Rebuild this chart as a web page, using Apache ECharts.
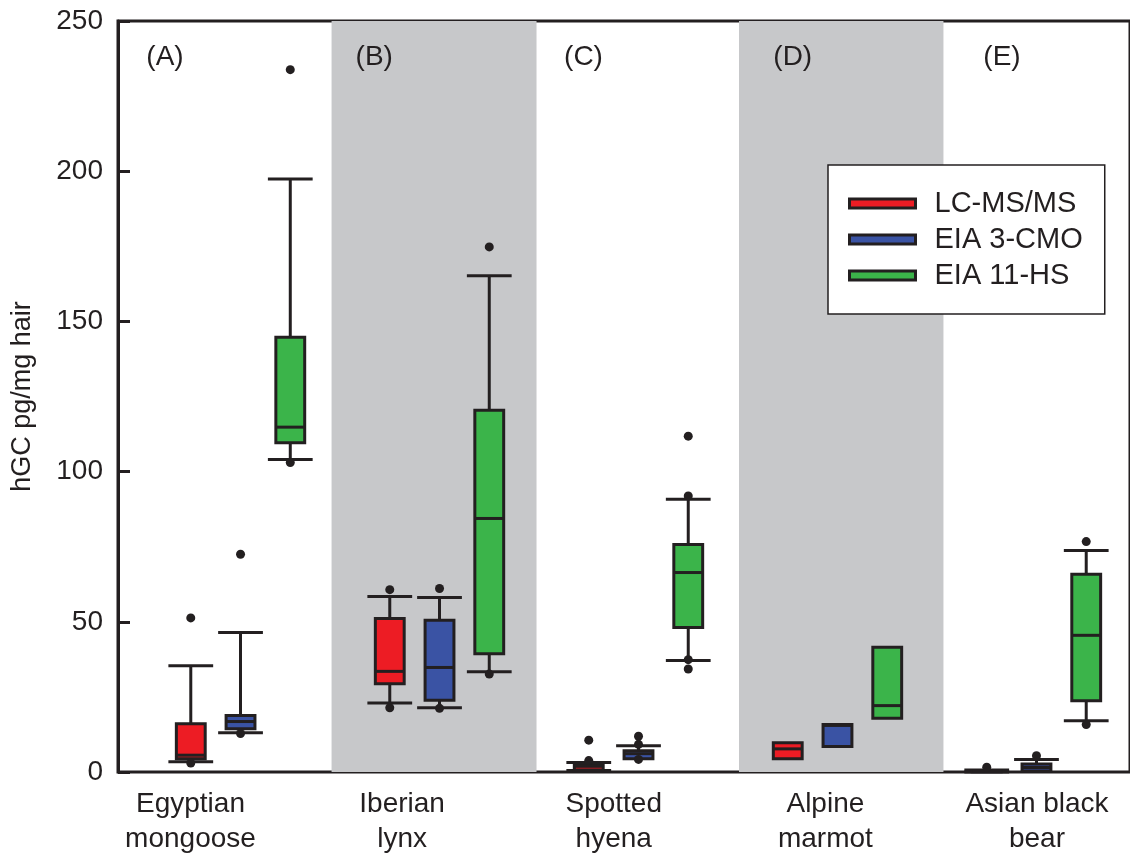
<!DOCTYPE html>
<html><head><meta charset="utf-8">
<script src="https://cdn.jsdelivr.net/npm/echarts@6/dist/echarts.min.js"></script>
<style>html,body{margin:0;padding:0;background:#fff}#c{width:1130px;height:857px}</style>
</head><body><div id="c"></div>
<script>
// ---------- data ----------
const species = ['Egyptian\nmongoose', 'Iberian\nlynx', 'Spotted\nhyena', 'Alpine\nmarmot', 'Asian black\nbear'];
const panelTags = ['(A)', '(B)', '(C)', '(D)', '(E)'];
const methods = ['LC-MS/MS', 'EIA 3-CMO', 'EIA 11-HS'];
const yTicks = [0, 50, 100, 150, 200, 250];
// shaded panels (B) and (D), as x extents in box-slot units
const shadedBands = [[2.83, 6.95], [11.02, 15.13]];
// [min, Q1, median, Q3, max] per species
const lcmsBox = [
  [3.4, 4.4, 5.6, 16.1, 35.4],
  [23.0, 29.4, 33.5, 51.1, 58.4],
  [0.5, 0.7, 1.9, 2.7, 3.2],
  [4.4, 4.4, 7.7, 9.7, 9.7],
  [0.0, 0.1, 0.3, 0.5, 0.7]
];
const eia3Box = [
  [13.1, 14.4, 16.8, 18.8, 46.4],
  [21.4, 23.9, 34.8, 50.5, 58.1],
  [4.4, 4.4, 6.1, 7.1, 8.7],
  [8.5, 8.5, 15.5, 15.8, 15.8],
  [0.3, 0.3, 1.5, 2.7, 4.2]
];
const eia11Box = [
  [104.0, 109.6, 114.8, 144.7, 197.4],
  [33.4, 39.4, 84.4, 120.4, 165.2],
  [37.1, 48.1, 66.4, 75.7, 90.8],
  [17.9, 17.9, 22.1, 41.5, 41.5],
  [17.1, 23.7, 45.5, 65.8, 73.7]
];
// outlier points per species
const lcmsOut = [[51.3, 3.0], [60.7, 21.4], [10.6, 3.8], [], [1.6]];
const eia3Out = [[72.5, 12.8], [61.1, 21.2], [11.9, 9.2, 4.2], [], [5.4]];
const eia11Out = [[233.8, 103.0], [174.8, 32.6], [111.8, 91.9, 37.4, 34.3], [], [76.7, 15.8]];

// ---------- styling ----------
const DARK = '#231F20';
const COLORS = ['#ED1C24', '#3A53A4', '#3BB44A'];
const GRAY = '#C7C8CA';
const FONT = 'Liberation Sans, Arial, Helvetica, sans-serif';
const SLOTS_PER_GROUP = 4;

const boxSets = [lcmsBox, eia3Box, eia11Box];
const outSets = [lcmsOut, eia3Out, eia11Out];

function renderBox(params, api) {
  const x = api.value(0);
  const slot = api.size([1, 0])[0];
  const bw = slot * 0.58, cw = slot * 0.9;
  const p = [1, 2, 3, 4, 5].map(i => api.coord([x, api.value(i)]));
  const cx = p[0][0];
  const yMin = p[0][1], yQ1 = p[1][1], yMed = p[2][1], yQ3 = p[3][1], yMax = p[4][1];
  const ls = { stroke: DARK, lineWidth: 3 };
  const ch = [];
  if (api.value(5) > api.value(4)) {
    ch.push({ type: 'line', shape: { x1: cx, y1: yQ3, x2: cx, y2: yMax }, style: ls });
    ch.push({ type: 'line', shape: { x1: cx - cw / 2, y1: yMax, x2: cx + cw / 2, y2: yMax }, style: ls });
  }
  if (api.value(1) < api.value(2)) {
    ch.push({ type: 'line', shape: { x1: cx, y1: yQ1, x2: cx, y2: yMin }, style: ls });
    ch.push({ type: 'line', shape: { x1: cx - cw / 2, y1: yMin, x2: cx + cw / 2, y2: yMin }, style: ls });
  }
  ch.push({ type: 'rect', shape: { x: cx - bw / 2, y: yQ3, width: bw, height: yQ1 - yQ3 },
            style: { fill: api.visual('color'), stroke: DARK, lineWidth: 3 } });
  ch.push({ type: 'line', shape: { x1: cx - bw / 2, y1: yMed, x2: cx + bw / 2, y2: yMed }, style: ls });
  return { type: 'group', children: ch };
}

const series = [];
// shaded bands
series.push({
  type: 'scatter', xAxisIndex: 0, yAxisIndex: 0, data: [], silent: true, z: 0,
  markArea: {
    silent: true,
    itemStyle: { color: GRAY, borderWidth: 0, opacity: 1 },
    data: shadedBands.map(b => [{ xAxis: b[0] }, { xAxis: b[1] }])
  }
});
methods.forEach((m, mi) => {
  series.push({
    name: m, type: 'custom', xAxisIndex: 0, yAxisIndex: 0, z: 3,
    itemStyle: { color: COLORS[mi] },
    renderItem: renderBox,
    encode: { x: 0, y: [1, 2, 3, 4, 5] },
    data: boxSets[mi].map((b, g) => [g * SLOTS_PER_GROUP + mi].concat(b))
  });
});
methods.forEach((m, mi) => {
  const pts = [];
  outSets[mi].forEach((arr, g) => arr.forEach(v => pts.push([g * SLOTS_PER_GROUP + mi, v])));
  series.push({
    name: m + ' outliers', type: 'scatter', xAxisIndex: 0, yAxisIndex: 0, z: 5,
    symbol: 'circle', symbolSize: 9, itemStyle: { color: DARK, opacity: 1 }, data: pts, silent: true
  });
});

const chart = echarts.init(document.getElementById('c'), null, { renderer: 'canvas' });
chart.setOption({
  backgroundColor: '#fff',
  animation: false,
  legend: {
    orient: 'vertical', left: 828, top: 165,
    data: methods.map(m => ({ name: m, icon: 'rect' })),
    itemWidth: 66, itemHeight: 9, itemGap: 7,
    itemStyle: { borderColor: DARK, borderWidth: 3 },
    textStyle: { fontSize: 29, color: DARK, fontFamily: FONT, padding: [0, 0, 0, 14] },
    backgroundColor: '#fff', borderColor: DARK, borderWidth: 1.5,
    padding: [24, 22, 24, 20], selectedMode: false
  },
  grid: [
    { left: 118, right: -3, top: 21, bottom: 85, show: true, borderColor: DARK, borderWidth: 3, backgroundColor: 'transparent' },
    { left: 190.5, right: 93, top: 21, bottom: 85 },
    { left: 165, right: 128, top: 21, bottom: 85 }
  ],
  xAxis: [
    { type: 'value', gridIndex: 0, min: -1.463, max: 18.88, show: false },
    { type: 'category', gridIndex: 1, data: species, boundaryGap: false,
      axisLine: { show: false }, axisTick: { show: false }, splitLine: { show: false },
      axisLabel: { interval: 0, fontSize: 28, lineHeight: 35, color: DARK, fontFamily: FONT, margin: 23 } },
    { type: 'category', gridIndex: 2, position: 'top', data: panelTags, boundaryGap: false, z: 10,
      axisLine: { show: false }, axisTick: { show: false }, splitLine: { show: false },
      axisLabel: { inside: true, interval: 0, fontSize: 28, color: DARK, fontFamily: FONT, margin: 22 } }
  ],
  yAxis: [
    { type: 'value', gridIndex: 0, min: yTicks[0], max: yTicks[yTicks.length - 1], interval: 50,
      name: 'hGC pg/mg hair', nameLocation: 'middle', nameGap: 82,
      nameTextStyle: { fontSize: 27, color: DARK, fontFamily: FONT },
      axisLine: { show: true, onZero: false, lineStyle: { color: DARK, width: 3 } },
      axisTick: { show: true, inside: true, length: 12, lineStyle: { color: DARK, width: 3 } },
      splitLine: { show: false },
      axisLabel: { fontSize: 28, color: DARK, fontFamily: FONT, margin: 15 } },
    { type: 'value', gridIndex: 1, show: false, min: 0, max: 1 },
    { type: 'value', gridIndex: 2, show: false, min: 0, max: 1 }
  ],
  series: series
});
</script>
</body></html>
